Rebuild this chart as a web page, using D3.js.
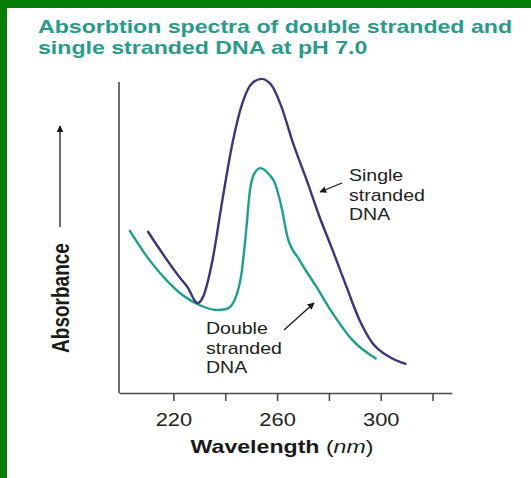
<!DOCTYPE html>
<html lang="en">
<head>
    <meta charset="UTF-8">
    <title>Absorbtion spectra of DNA</title>
    <script src="https://d3js.org/d3.v7.min.js"></script>
    <style>
        body { margin: 0; background: #fff; }
        svg text { font-family: "Liberation Sans", Arial, Helvetica, sans-serif; }
    </style>
</head>
<body>
    <div id="chart"></div>

    <script>
        // Values (wavelength in nm, absorbance in arbitrary units)
        const ssWave = [210, 222.3, 225.4, 229.3, 231.2, 235.1, 238.9, 242.8, 246.6, 250.5, 254, 257.8, 261.7, 265.9, 271.4, 276.4, 281.4, 286.8, 291.8, 296.8, 303.4, 309.9];
        const ssAbs  = [0.521, 0.373, 0.341, 0.289, 0.305, 0.428, 0.621, 0.804, 0.932, 0.997, 1.01, 0.99, 0.92, 0.81, 0.685, 0.566, 0.46, 0.341, 0.235, 0.161, 0.116, 0.093];
        const dsWave = [203, 210.7, 217.3, 223.5, 230, 236.6, 240.5, 243.6, 246.3, 248.2, 249.4, 251.3, 253.6, 257.1, 259, 261.7, 264, 268.6, 275.2, 281.4, 289.1, 298.4];
        const dsAbs  = [0.524, 0.428, 0.363, 0.315, 0.283, 0.267, 0.27, 0.299, 0.386, 0.534, 0.643, 0.707, 0.723, 0.701, 0.678, 0.598, 0.502, 0.428, 0.341, 0.257, 0.17, 0.109];
        const tickValues = [220, 240, 260, 280, 300, 320];
        const tickLabels = ["220", "", "260", "", "300", ""];
        const titleLines = ["Absorbtion spectra of double stranded and", "single stranded DNA at pH 7.0"];
        const ssLabel = ["Single", "stranded", "DNA"];
        const dsLabel = ["Double", "stranded", "DNA"];

        const W = 531, H = 478;
        const stretch = 1.25;   // the picture is wider than its fonts

        const svg = d3.select("#chart")
                      .append("svg")
                      .attr("width", W)
                      .attr("height", H);

        // Green frame on top and left
        svg.append("rect").attr("x", 0).attr("y", 0).attr("width", W).attr("height", 8).attr("fill", "#067d06");
        svg.append("rect").attr("x", 0).attr("y", 0).attr("width", 7).attr("height", H).attr("fill", "#067d06");

        const defs = svg.append("defs");
        defs.append("marker")
            .attr("id", "head")
            .attr("viewBox", "0 0 10 10")
            .attr("refX", 9).attr("refY", 5)
            .attr("markerWidth", 7).attr("markerHeight", 7)
            .attr("markerUnits", "userSpaceOnUse")
            .attr("orient", "auto")
            .append("path")
            .attr("d", "M0,0L10,5L0,10z")
            .attr("fill", "#1a1a1a");

        // Scales
        const x = d3.scaleLinear().domain([199, 327.5]).range([119, 452]);
        const y = d3.scaleLinear().domain([0, 1]).range([393, 82]);

        // Title
        titleLines.forEach((t, i) => {
            svg.append("text")
               .attr("transform", `translate(38,${33 + i * 21}) scale(${stretch},1)`)
               .attr("font-size", 18.5)
               .attr("font-weight", "bold")
               .attr("fill", "#2b9a8b")
               .text(t);
        });

        // X axis
        const xAxis = svg.append("g")
           .attr("transform", `translate(0,${y(0)})`)
           .call(d3.axisBottom(x)
                   .tickValues(tickValues)
                   .tickSize(8)
                   .tickSizeOuter(0)
                   .tickFormat((d, i) => tickLabels[i]));
        xAxis.select(".domain").attr("stroke", "#4a4a4a").attr("stroke-width", 1.6);
        xAxis.selectAll(".tick line").attr("stroke", "#4a4a4a").attr("stroke-width", 1.6);
        xAxis.selectAll(".tick text")
             .attr("y", 33).attr("dy", 0)
             .attr("transform", `scale(${stretch},1)`)
             .attr("font-size", 17.5)
             .attr("font-family", "Liberation Sans, Arial, sans-serif")
             .attr("fill", "#222");

        // Y axis (line only)
        svg.append("line")
           .attr("x1", x.range()[0]).attr("x2", x.range()[0])
           .attr("y1", y(0)).attr("y2", y(1))
           .attr("stroke", "#4a4a4a").attr("stroke-width", 1.6);

        // Axis titles
        const xt = svg.append("text")
           .attr("transform", `translate(282,453) scale(${stretch},1)`)
           .attr("text-anchor", "middle")
           .attr("font-size", 18.5)
           .attr("fill", "#1a1a1a");
        xt.append("tspan").attr("font-weight", "bold").text("Wavelength ");
        xt.append("tspan").text("(");
        xt.append("tspan").attr("font-style", "italic").text("nm");
        xt.append("tspan").text(")");

        svg.append("text")
           .attr("transform", `translate(69,298) scale(${stretch},1) rotate(-90)`)
           .attr("text-anchor", "middle")
           .attr("font-size", 19)
           .attr("font-weight", "bold")
           .attr("fill", "#1a1a1a")
           .text("Absorbance");

        svg.append("line")
           .attr("x1", 60).attr("x2", 60)
           .attr("y1", 227).attr("y2", 126)
           .attr("stroke", "#1a1a1a").attr("stroke-width", 1.3)
           .attr("marker-end", "url(#head)");

        // Curves
        const line = d3.line()
                       .x(d => x(d[0]))
                       .y(d => y(d[1]))
                       .curve(d3.curveMonotoneX);

        svg.append("path")
           .datum(d3.zip(dsWave, dsAbs))
           .attr("d", line)
           .attr("fill", "none")
           .attr("stroke", "#1f9e8f")
           .attr("stroke-width", 2.4);

        svg.append("path")
           .datum(d3.zip(ssWave, ssAbs))
           .attr("d", line)
           .attr("fill", "none")
           .attr("stroke", "#3d3580")
           .attr("stroke-width", 2.4);

        // Annotations
        function label(lines, lx, ly) {
            lines.forEach((t, i) => {
                svg.append("text")
                   .attr("transform", `translate(${lx},${ly + i * 19.5}) scale(1.22,1)`)
                   .attr("font-size", 16)
                   .attr("fill", "#222")
                   .text(t);
            });
        }
        label(ssLabel, 349, 181);
        label(dsLabel, 206, 334);

        svg.append("line")
           .attr("x1", 342).attr("y1", 183).attr("x2", 320).attr("y2", 192)
           .attr("stroke", "#1a1a1a").attr("stroke-width", 1.3)
           .attr("marker-end", "url(#head)");
        svg.append("line")
           .attr("x1", 284).attr("y1", 330).attr("x2", 314).attr("y2", 303)
           .attr("stroke", "#1a1a1a").attr("stroke-width", 1.3)
           .attr("marker-end", "url(#head)");
    </script>
</body>
</html>
